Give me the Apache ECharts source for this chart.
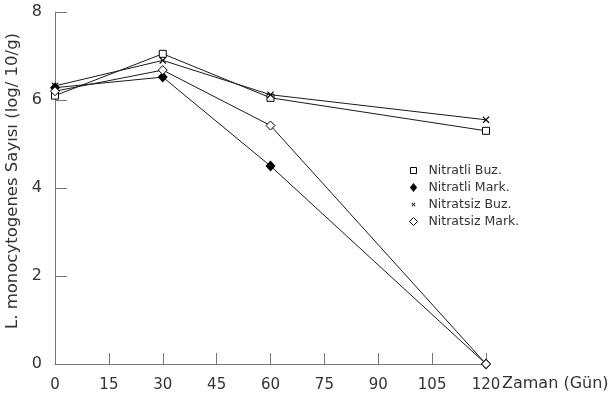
<!DOCTYPE html>
<html>
<head>
<meta charset="utf-8">
<script src="https://cdn.jsdelivr.net/npm/echarts@6/dist/echarts.min.js"></script>
<style>
html,body{margin:0;padding:0;background:#fff;}
#chart{width:614px;height:403px;}
</style>
</head>
<body>
<div id="chart"></div>
<script>
// Data
var days = [0, 30, 60, 120];
var seriesNames = ['Nitratli Buz.', 'Nitratli Mark.', 'Nitratsiz Buz.', 'Nitratsiz Mark.'];
var nitratliBuz = [6.1, 7.05, 6.05, 5.3];
var nitratliMark = [6.28, 6.52, 4.5, 0];
var nitratsizBuz = [6.32, 6.9, 6.12, 5.55];
var nitratsizMark = [6.2, 6.68, 5.42, 0];
var xTicks = [0, 15, 30, 45, 60, 75, 90, 105, 120];
var yTicks = [0, 2, 4, 6, 8];

var FONT = 'DejaVu Sans';
var xPath = 'path://M0,1.2L1.2,0L5,3.8L8.8,0L10,1.2L6.2,5L10,8.8L8.8,10L5,6.2L1.2,10L0,8.8L3.8,5Z';

function pairs(vals) {
  return days.map(function (d, i) { return [d, vals[i]]; });
}

var chart = echarts.init(document.getElementById('chart'), null, {renderer: 'canvas'});
var lineColor = '#1a1a1a';

var option = {
  animation: false,
  backgroundColor: '#fff',
  grid: {left: 55, right: 128, top: 12, bottom: 39, containLabel: false, outerBoundsMode: 'none'},
  legend: {
    orient: 'vertical',
    left: 403,
    top: 159,
    itemWidth: 10,
    itemHeight: 10,
    itemGap: 4,
    textStyle: {fontFamily: FONT, fontSize: 12.5, color: '#333', padding: [0, 0, 0, 5]},
    data: [
      {name: seriesNames[0], icon: 'path://M0,0M10,10M2,2L8,2L8,8L2,8Z',
       itemStyle: {color: '#fff', borderColor: '#000', borderWidth: 1}},
      {name: seriesNames[1], icon: 'path://M0,0M10,10M5,0.5L8.6,5L5,9.5L1.4,5Z',
       itemStyle: {color: '#000', borderWidth: 0}},
      {name: seriesNames[2], icon: 'path://M0,0M10,10M3,3.6L3.6,3L5,4.4L6.4,3L7,3.6L5.6,5L7,6.4L6.4,7L5,5.6L3.6,7L3,6.4L4.4,5Z',
       itemStyle: {color: '#000', borderWidth: 0}},
      {name: seriesNames[3], icon: 'path://M0,0M10,10M5,1L9,5L5,9L1,5Z',
       itemStyle: {color: '#fff', borderColor: '#000', borderWidth: 1}}
    ]
  },
  xAxis: {
    type: 'value',
    min: 0, max: 120, interval: 15,
    name: 'Zaman (Gün)',
    nameLocation: 'end',
    nameGap: 16,
    nameMoveOverlap: false,
    nameTextStyle: {fontFamily: FONT, fontSize: 16, color: '#333', verticalAlign: 'top', padding: [12, 0, 0, 0]},
    axisLine: {lineStyle: {color: '#777', width: 1}},
    axisTick: {inside: true, length: 11, lineStyle: {color: '#777'}},
    axisLabel: {fontFamily: FONT, fontSize: 15, color: '#333', margin: 14,
      formatter: function (v) { return xTicks.indexOf(v) >= 0 ? String(v) : ''; }},
    splitLine: {show: false}
  },
  yAxis: {
    type: 'value',
    min: 0, max: 8, interval: 2,
    name: 'L. monocytogenes Sayısı (log/ 10/g)',
    nameLocation: 'middle',
    nameGap: 34,
    nameMoveOverlap: false,
    nameTextStyle: {fontFamily: FONT, fontSize: 16.5, color: '#333', padding: [0, 0, 0, 14]},
    axisLine: {show: true, lineStyle: {color: '#777', width: 1}},
    axisTick: {show: true, inside: true, length: 12, lineStyle: {color: '#777'}},
    axisLabel: {fontFamily: FONT, fontSize: 16, color: '#333', margin: 13,
      formatter: function (v) { return yTicks.indexOf(v) >= 0 ? String(v) : ''; }},
    splitLine: {show: false}
  },
  series: [
    {
      name: seriesNames[0], type: 'line', data: pairs(nitratliBuz),
      symbol: 'rect', symbolSize: 7, z: 3,
      itemStyle: {color: '#fff', borderColor: '#000', borderWidth: 1},
      lineStyle: {color: lineColor, width: 1}
    },
    {
      name: seriesNames[1], type: 'line', data: pairs(nitratliMark),
      symbol: 'diamond', symbolSize: [10, 11], z: 5,
      itemStyle: {color: '#000', borderWidth: 0},
      lineStyle: {color: lineColor, width: 1}
    },
    {
      name: seriesNames[2], type: 'line', data: pairs(nitratsizBuz),
      symbol: xPath, symbolSize: 7, z: 4,
      itemStyle: {color: '#000', borderWidth: 0},
      lineStyle: {color: lineColor, width: 1}
    },
    {
      name: seriesNames[3], type: 'line', data: pairs(nitratsizMark),
      symbol: 'diamond', symbolSize: 9, z: 6,
      itemStyle: {color: '#fff', borderColor: '#000', borderWidth: 1},
      lineStyle: {color: lineColor, width: 1}
    }
  ]
};
chart.setOption(option);
</script>
</body>
</html>
